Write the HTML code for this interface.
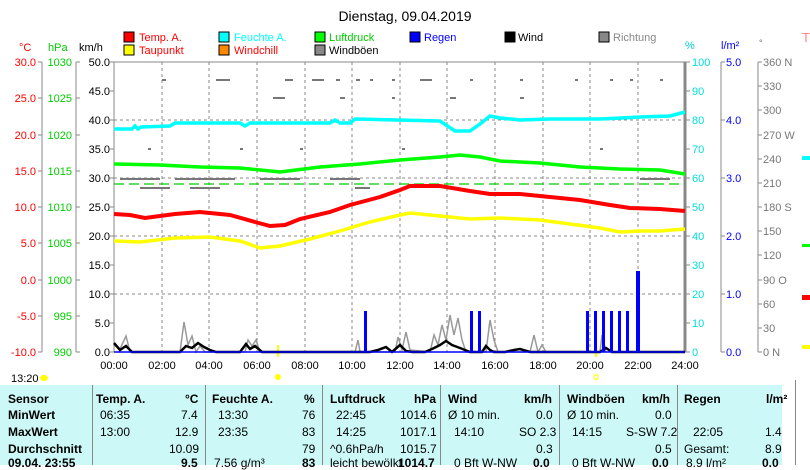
<!DOCTYPE html><html><head><meta charset="utf-8"><style>
body{margin:0;background:#fff;width:810px;height:465px;overflow:hidden;font-family:"Liberation Sans",sans-serif;}
svg text{font-family:"Liberation Sans",sans-serif;}
.tb{position:absolute;left:0;top:385px;width:782px;height:80px;background:#ccf8f8;font-size:12px;}
.tb div{position:absolute;white-space:nowrap}
.b{font-weight:bold}
</style></head><body>
<svg width="810" height="465" style="position:absolute;left:0;top:0">
<text x="405" y="21" font-size="14" text-anchor="middle" fill="#000">Dienstag, 09.04.2019</text>
<g font-size="11">
<rect x="124" y="32" width="10" height="10" fill="#f00" stroke="#000"/><text x="139" y="41" fill="#f00">Temp. A.</text>
<rect x="124" y="45" width="10" height="10" fill="#ff0" stroke="#000"/><text x="139" y="54" fill="#f00">Taupunkt</text>
<rect x="219" y="32" width="10" height="10" fill="#0ff" stroke="#000"/><text x="234" y="41" fill="#0ff">Feuchte A.</text>
<rect x="219" y="45" width="10" height="10" fill="#f80" stroke="#000"/><text x="234" y="54" fill="#f00">Windchill</text>
<rect x="315" y="32" width="10" height="10" fill="#0f0" stroke="#000"/><text x="329" y="41" fill="#0c0">Luftdruck</text>
<rect x="315" y="45" width="10" height="10" fill="#888" stroke="#000"/><text x="329" y="54" fill="#000">Windböen</text>
<rect x="410" y="32" width="10" height="10" fill="#00f" stroke="#000"/><text x="424" y="41" fill="#00f">Regen</text>
<rect x="505" y="32" width="10" height="10" fill="#000" stroke="#000"/><text x="518" y="41" fill="#000">Wind</text>
<rect x="599" y="32" width="10" height="10" fill="#888" stroke="#000"/><text x="613" y="41" fill="#888">Richtung</text>
</g>
<text x="19" y="51" font-size="11" fill="#f00">°C</text>
<text x="48" y="51" font-size="11" fill="#0c0">hPa</text>
<text x="79" y="51" font-size="11" fill="#000">km/h</text>
<text x="685" y="49" font-size="11" fill="#0cc">%</text>
<text x="721" y="49" font-size="11" fill="#00f">l/m²</text>
<text x="759" y="46" font-size="9" fill="#666">°</text>
<text x="802" y="42" font-size="13" fill="#f88">T</text>
<g stroke="#888" stroke-dasharray="3,3">
<line x1="114" x2="685" y1="120" y2="120"/><line x1="114" x2="685" y1="178" y2="178"/><line x1="114" x2="685" y1="236" y2="236"/><line x1="114" x2="685" y1="294" y2="294"/>
<line x1="162" x2="162" y1="62" y2="352"/><line x1="209" x2="209" y1="62" y2="352"/><line x1="257" x2="257" y1="62" y2="352"/><line x1="305" x2="305" y1="62" y2="352"/><line x1="352" x2="352" y1="62" y2="352"/><line x1="400" x2="400" y1="62" y2="352"/><line x1="447" x2="447" y1="62" y2="352"/><line x1="495" x2="495" y1="62" y2="352"/><line x1="543" x2="543" y1="62" y2="352"/><line x1="590" x2="590" y1="62" y2="352"/><line x1="638" x2="638" y1="62" y2="352"/>
</g>
<rect x="114" y="62" width="571" height="290" fill="none" stroke="#888" stroke-width="1"/>
<line x1="685" y1="62" x2="685" y2="352" stroke="#888" stroke-width="3"/>
<g stroke="#888"><line x1="42" y1="62" x2="42" y2="352"/><line x1="76" y1="62" x2="76" y2="352"/><line x1="721" y1="62" x2="721" y2="352"/><line x1="758" y1="62" x2="758" y2="352"/>
<path d="M38 62h4M38 98h4M38 135h4M38 171h4M38 207h4M38 243h4M38 280h4M38 316h4M38 352h4M76 62h4M76 98h4M76 135h4M76 171h4M76 207h4M76 243h4M76 280h4M76 316h4M76 352h4M110 62h4M110 91h4M110 120h4M110 149h4M110 178h4M110 207h4M110 236h4M110 265h4M110 294h4M110 323h4M110 352h4M685 62h5M685 91h5M685 120h5M685 149h5M685 178h5M685 207h5M685 236h5M685 265h5M685 294h5M685 323h5M685 352h5M721 62h4M721 120h4M721 178h4M721 236h4M721 294h4M721 352h4M758 62h4M758 86h4M758 110h4M758 135h4M758 159h4M758 183h4M758 207h4M758 231h4M758 255h4M758 280h4M758 304h4M758 328h4M758 352h4"/></g>
<g font-size="11" text-anchor="end">
<text x="36" y="66" fill="#f00">30.0</text><text x="36" y="102" fill="#f00">25.0</text><text x="36" y="139" fill="#f00">20.0</text><text x="36" y="175" fill="#f00">15.0</text><text x="36" y="211" fill="#f00">10.0</text><text x="36" y="247" fill="#f00">5.0</text><text x="36" y="284" fill="#f00">0.0</text><text x="36" y="320" fill="#f00">-5.0</text><text x="36" y="356" fill="#f00">-10.0</text>
<text x="72" y="66" fill="#0c0">1030</text><text x="72" y="102" fill="#0c0">1025</text><text x="72" y="139" fill="#0c0">1020</text><text x="72" y="175" fill="#0c0">1015</text><text x="72" y="211" fill="#0c0">1010</text><text x="72" y="247" fill="#0c0">1005</text><text x="72" y="284" fill="#0c0">1000</text><text x="72" y="320" fill="#0c0">995</text><text x="72" y="356" fill="#0c0">990</text>
<text x="110" y="66" fill="#000">50.0</text><text x="110" y="95" fill="#000">45.0</text><text x="110" y="124" fill="#000">40.0</text><text x="110" y="153" fill="#000">35.0</text><text x="110" y="182" fill="#000">30.0</text><text x="110" y="211" fill="#000">25.0</text><text x="110" y="240" fill="#000">20.0</text><text x="110" y="269" fill="#000">15.0</text><text x="110" y="298" fill="#000">10.0</text><text x="110" y="327" fill="#000">5.0</text><text x="110" y="356" fill="#000">0.0</text>
</g>
<g font-size="11" fill="#0dd">
<text x="692" y="66">100</text><text x="692" y="95">90</text><text x="692" y="124">80</text><text x="692" y="153">70</text><text x="692" y="182">60</text><text x="692" y="211">50</text><text x="692" y="240">40</text><text x="692" y="269">30</text><text x="692" y="298">20</text><text x="692" y="327">10</text><text x="692" y="356">0</text>
</g>
<g font-size="11" fill="#00f"><text x="726" y="66">5.0</text><text x="726" y="124">4.0</text><text x="726" y="182">3.0</text><text x="726" y="240">2.0</text><text x="726" y="298">1.0</text><text x="726" y="356">0.0</text></g>
<g font-size="11" fill="#777"><text x="763" y="66">360 N</text><text x="763" y="90">330</text><text x="763" y="114">300</text><text x="763" y="139">270 W</text><text x="763" y="163">240</text><text x="763" y="187">210</text><text x="763" y="211">180 S</text><text x="763" y="235">150</text><text x="763" y="259">120</text><text x="763" y="284">90  O</text><text x="763" y="308">60</text><text x="763" y="332">30</text><text x="763" y="356">0   N</text></g>
<g font-size="11" text-anchor="middle" fill="#000">
<text x="114" y="369">00:00</text><text x="162" y="369">02:00</text><text x="209" y="369">04:00</text><text x="257" y="369">06:00</text><text x="305" y="369">08:00</text><text x="352" y="369">10:00</text><text x="400" y="369">12:00</text><text x="447" y="369">14:00</text><text x="495" y="369">16:00</text><text x="543" y="369">18:00</text><text x="590" y="369">20:00</text><text x="638" y="369">22:00</text><text x="685" y="369">24:00</text>
</g>
<text x="11" y="382" font-size="11">13:20</text><ellipse cx="44" cy="378" rx="4" ry="3" fill="#ff0"/>
<circle cx="278" cy="377" r="3" fill="#ff0"/><line x1="278" y1="345" x2="278" y2="357" stroke="#ff0" stroke-width="2"/>
<rect x="594" y="375" width="4" height="4" fill="none" stroke="#ff0"/><line x1="596" y1="345" x2="596" y2="357" stroke="#ff0" stroke-width="2"/>
<g fill="#777">
<rect x="162" y="79" width="4" height="2"/><rect x="216" y="79" width="14" height="2"/><rect x="285" y="79" width="8" height="2"/><rect x="312" y="79" width="12" height="2"/><rect x="336" y="79" width="4" height="2"/><rect x="356" y="79" width="4" height="2"/><rect x="370" y="79" width="3" height="2"/><rect x="392" y="79" width="3" height="2"/><rect x="420" y="79" width="12" height="2"/><rect x="470" y="79" width="3" height="2"/><rect x="520" y="79" width="3" height="2"/><rect x="575" y="79" width="3" height="2"/><rect x="610" y="79" width="3" height="2"/><rect x="630" y="79" width="3" height="2"/><rect x="660" y="79" width="3" height="2"/>
<rect x="273" y="97" width="12" height="2"/><rect x="340" y="97" width="5" height="2"/><rect x="392" y="97" width="3" height="2"/><rect x="450" y="97" width="6" height="2"/><rect x="520" y="97" width="4" height="2"/>
<rect x="148" y="148" width="3" height="2"/><rect x="240" y="148" width="3" height="2"/><rect x="300" y="148" width="3" height="2"/><rect x="402" y="148" width="3" height="2"/><rect x="600" y="148" width="3" height="2"/>
<rect x="120" y="178" width="40" height="2"/><rect x="175" y="178" width="60" height="2"/><rect x="260" y="178" width="40" height="2"/><rect x="330" y="178" width="30" height="2"/><rect x="640" y="178" width="30" height="2"/>
<rect x="140" y="187" width="30" height="2"/><rect x="190" y="187" width="30" height="2"/><rect x="355" y="187" width="15" height="2"/>
</g>
<line x1="114" y1="184" x2="685" y2="184" stroke="#0c0" stroke-dasharray="10,5" stroke-width="1.2"/>
<polyline fill="none" stroke="#999" stroke-width="1.5" points="114,345 120,349 126,336 130,352 180,352 184,322 188,345 192,336 196,352 200,346 205,352 245,352 248,340 252,346 256,340 260,352 355,352 358,340 360,352 395,352 398,337 402,350 406,332 410,350 430,352 434,335 438,345 442,325 446,340 450,315 454,335 458,318 462,340 466,352 486,352 490,320 494,340 498,352 530,352 534,335 538,352 542,345 546,352 600,352 602,335 606,352"/>
<polyline fill="none" stroke="#000" stroke-width="2.5" points="114,343 120,350 126,346 132,352 180,352 186,346 192,348 198,343 204,347 210,350 216,352 240,352 246,344 250,349 255,346 262,352 340,352 350,352 370,352 378,350 386,347 392,352 400,345 406,351 412,352 425,352 432,349 440,345 446,341 452,345 460,348 470,352 482,352 486,346 490,350 494,352 505,352 514,350 520,349 530,352 546,352 600,352 606,348 612,352 685,352"/>
<g fill="#00f"><rect x="364" y="311" width="3" height="41"/><rect x="470" y="311" width="3" height="41"/><rect x="478" y="311" width="3" height="41"/><rect x="586" y="311" width="3" height="41"/><rect x="594" y="311" width="3" height="41"/><rect x="602" y="311" width="3" height="41"/><rect x="610" y="311" width="3" height="41"/><rect x="618" y="311" width="3" height="41"/><rect x="626" y="311" width="3" height="41"/><rect x="636" y="271" width="4" height="81"/></g>
<line x1="114" y1="352" x2="685" y2="352" stroke="#00f" stroke-width="1.5"/>
<polyline fill="none" stroke="#0ff" stroke-width="3.5" points="114,129 132,129 135,126 138,129 141,127 170,126 175,123 240,123 245,126 250,123 330,123 335,120 340,123 350,123 355,119 440,121 455,131 470,131 480,124 490,116 500,118 520,120 550,119 600,119 640,117 670,116 685,112"/>
<polyline fill="none" stroke="#0f0" stroke-width="3.5" points="114,164 160,165 200,167 240,168 280,172 320,167 360,164 400,160 440,157 460,155 480,157 500,161 540,163 580,167 620,169 660,170 685,174"/>
<polyline fill="none" stroke="#f00" stroke-width="4" points="114,214 130,215 145,218 175,214 200,212 230,215 255,222 270,226 285,225 300,219 330,212 350,205 380,197 400,190 410,186 440,186 470,191 490,194 520,194 560,198 580,200 610,205 630,208 660,209 685,211"/>
<polyline fill="none" stroke="#ff0" stroke-width="3.5" points="114,241 140,242 175,238 210,237 240,241 260,248 280,246 310,239 340,231 370,222 400,215 410,213 440,216 470,219 500,218 540,220 570,224 600,228 620,232 640,231 660,231 685,229"/>
<g><rect x="802" y="156" width="8" height="4" fill="#0ff"/><rect x="802" y="244" width="8" height="3" fill="#0f0"/><rect x="802" y="295" width="8" height="5" fill="#f00"/><rect x="802" y="345" width="8" height="4" fill="#ff0"/></g>
</svg>
<div class="tb">
<div style="left:92px;top:0;width:1px;height:80px;background:#888"></div>
<div style="left:205px;top:0;width:1px;height:80px;background:#888"></div>
<div style="left:322px;top:0;width:1px;height:80px;background:#888"></div>
<div style="left:440px;top:0;width:1px;height:80px;background:#888"></div>
<div style="left:559px;top:0;width:1px;height:80px;background:#888"></div>
<div style="left:677px;top:0;width:1px;height:80px;background:#888"></div>
<div class="b" style="left:8px;top:7px">Sensor</div><div class="b" style="left:8px;top:23px">MinWert</div><div class="b" style="left:8px;top:40px">MaxWert</div><div class="b" style="left:8px;top:57px">Durchschnitt</div><div class="b" style="left:8px;top:71px">09.04. 23:55</div>
<div class="b" style="left:96px;top:7px">Temp. A.</div><div class="b" style="left:185px;top:7px">°C</div>
<div style="left:100px;top:23px">06:35</div><div style="left:181px;top:23px">7.4</div><div style="left:100px;top:40px">13:00</div><div style="left:175px;top:40px">12.9</div><div style="left:169px;top:57px">10.09</div><div class="b" style="left:181px;top:71px">9.5</div>
<div class="b" style="left:212px;top:7px">Feuchte A.</div><div class="b" style="left:304px;top:7px">%</div>
<div style="left:218px;top:23px">13:30</div><div style="left:302px;top:23px">76</div><div style="left:218px;top:40px">23:35</div><div style="left:302px;top:40px">83</div><div style="left:302px;top:57px">79</div><div style="left:214px;top:71px">7.56 g/m³</div><div class="b" style="left:302px;top:71px">83</div>
<div class="b" style="left:330px;top:7px">Luftdruck</div><div class="b" style="left:414px;top:7px">hPa</div>
<div style="left:336px;top:23px">22:45</div><div style="left:400px;top:23px">1014.6</div><div style="left:336px;top:40px">14:25</div><div style="left:400px;top:40px">1017.1</div><div style="left:330px;top:57px">^0.6hPa/h</div><div style="left:400px;top:57px">1015.7</div><div style="left:330px;top:71px">leicht bewölkt</div><div class="b" style="left:398px;top:71px">1014.7</div>
<div class="b" style="left:448px;top:7px">Wind</div><div class="b" style="left:524px;top:7px">km/h</div>
<div style="left:448px;top:23px">Ø 10 min.</div><div style="left:536px;top:23px">0.0</div><div style="left:454px;top:40px">14:10</div><div style="left:519px;top:40px">SO 2.3</div><div style="left:536px;top:57px">0.3</div><div style="left:454px;top:71px">0 Bft W-NW</div><div class="b" style="left:533px;top:71px">0.0</div>
<div class="b" style="left:567px;top:7px">Windböen</div><div class="b" style="left:642px;top:7px">km/h</div>
<div style="left:567px;top:23px">Ø 10 min.</div><div style="left:655px;top:23px">0.0</div><div style="left:572px;top:40px">14:15</div><div style="left:626px;top:40px">S-SW 7.2</div><div style="left:655px;top:57px">0.5</div><div style="left:572px;top:71px">0 Bft W-NW</div><div class="b" style="left:652px;top:71px">0.0</div>
<div class="b" style="left:684px;top:7px">Regen</div><div class="b" style="left:766px;top:7px">l/m²</div>
<div style="left:693px;top:40px">22:05</div><div style="left:765px;top:40px">1.4</div><div style="left:684px;top:57px">Gesamt:</div><div style="left:765px;top:57px">8.9</div><div style="left:686px;top:71px">8.9 l/m²</div><div class="b" style="left:762px;top:71px">0.0</div>
</div>
<div style="position:absolute;left:795px;top:380px;width:1px;height:85px;background:#888"></div>
</body></html>
